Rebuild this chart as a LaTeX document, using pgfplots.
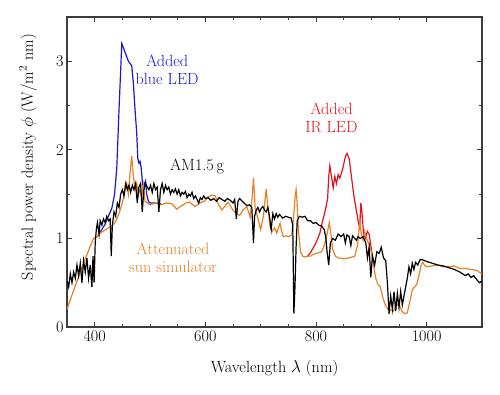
\documentclass[border=0pt]{standalone}
\usepackage{fontspec}
\usepackage{pgfplots}
\pgfplotsset{compat=1.18}
\definecolor{cblue}{RGB}{25,25,210}
\definecolor{cred}{RGB}{225,20,30}
\definecolor{corange}{RGB}{232,128,40}
\definecolor{caxis}{RGB}{60,60,60}
\newcommand{\lf}{\fontsize{16.2}{18}\selectfont}
\begin{document}
\begin{tikzpicture}
\begin{axis}[
  name=ax,
  scale only axis,
  width=415pt, height=310pt,
  xmin=350, xmax=1100, ymin=0, ymax=3.5,
  xtick={400,600,800,1000}, minor x tick num=3,
  ytick={0,1,2,3}, minor y tick num=1,
  tick align=inside,
  major tick length=5pt, minor tick length=3pt,
  axis line style={caxis, line width=1.2pt},
  every tick/.style={caxis, line width=1pt},
  /pgf/number format/assume math mode=true,
  /pgf/number format/1000 sep={},
  font=\lf,
  tick label style={font=\lf},
  xlabel={Wavelength $\lambda$ (nm)},
  ylabel={Spectral power density $\phi$ (W/m\textsuperscript{2} nm)},
  xlabel style={at={(rel axis cs:0.5,-0.135)}, anchor=center},
  ylabel style={at={(rel axis cs:-0.094,0.548)}, anchor=center},
  clip=true,
]
% blue LED
\addplot[cblue, line width=1.2pt] coordinates {
(405,1.02) (410,1.07) (418,1.15) (424,1.24) (431,1.34) (436,1.50) (440,1.80)
(444,2.45) (449,3.20) (455,3.10) (461,3.00) (467,2.95) (470,2.75) (473,2.45)
(476,2.19) (478,1.90) (480,1.85) (482,1.87) (484,1.80) (486,1.66) (488,1.55)
(490,1.62) (492,1.65) (494,1.50) (497,1.42) (500,1.40) (510,1.40) (520,1.39)
};
% IR LED
\addplot[cred, line width=1.2pt] coordinates {
(785,0.80) (790,0.84) (800,0.95) (807,1.06) (812,1.20) (817,1.32) (821,1.45)
(823,1.70) (825,1.82) (828,1.70) (831,1.57) (834,1.70) (837,1.62) (840,1.72)
(843,1.68) (848,1.78) (853,1.92) (856,1.96) (860,1.90) (864,1.70) (868,1.50)
(872,1.35) (876,1.20) (879,1.12) (881,1.40) (883,1.30) (886,1.05) (889,1.00)
(893,1.08) (896,1.05) (900,0.88) (904,0.72)
};
% attenuated sun simulator
\addplot[corange, line width=1.2pt] coordinates {
(350,0.20) (360,0.38) (370,0.55) (380,0.72) (390,0.88) (398,1.00) (405,1.02)
(410,1.06) (420,1.10) (430,1.14) (436,1.17) (440,1.22) (445,1.30) (450,1.40)
(455,1.55) (458,1.62) (461,1.50) (464,1.75) (467,1.93) (470,1.70) (473,1.55)
(476,1.62) (479,1.50) (482,1.55) (485,1.45) (488,1.60) (491,1.42) (495,1.40)
(500,1.38) (510,1.40) (520,1.38) (530,1.40) (540,1.39) (548,1.33) (555,1.36)
(565,1.40) (572,1.41) (581,1.36) (590,1.40) (598,1.42) (605,1.47) (612,1.49)
(618,1.48) (624,1.38) (630,1.32) (636,1.37) (641,1.41) (646,1.36) (650,1.32)
(656,1.28) (662,1.26) (668,1.32) (675,1.36) (681,1.24) (684,1.42) (687,1.68)
(690,1.35) (694,1.25) (700,1.10) (705,1.25) (710,1.56) (713,1.35) (717,1.13)
(721,1.08) (725,1.12) (729,1.06) (732,1.12) (735,1.17) (738,1.08) (741,1.02)
(746,1.03) (751,1.02) (756,1.04) (759,1.20) (762,1.45) (764,1.55) (766,1.40)
(768,1.10) (772,0.85) (776,0.80) (780,0.79) (785,0.80) (790,0.80) (795,0.82)
(800,0.83) (805,0.84) (810,0.85) (815,0.92) (820,1.05) (824,1.18) (827,1.05)
(830,0.88) (835,0.80) (840,0.78) (850,0.77) (860,0.78) (870,0.80) (875,0.92)
(879,1.20) (882,1.05) (885,0.98) (888,1.08) (891,1.00) (895,0.95) (900,0.85)
(904,0.70) (908,0.55) (912,0.48) (916,0.46) (920,0.35) (925,0.25) (930,0.20)
(940,0.18) (945,0.24) (950,0.26) (955,0.18) (960,0.15) (965,0.16) (970,0.30)
(974,0.42) (978,0.45) (982,0.48) (986,0.58) (990,0.70) (993,0.73) (996,0.70)
(1000,0.68) (1010,0.69) (1020,0.70) (1030,0.68) (1040,0.68) (1050,0.69)
(1060,0.66) (1070,0.66) (1080,0.65) (1090,0.64) (1100,0.60)
};
% AM1.5g
\addplot[black, line width=1.2pt] coordinates {
(350,0.52) (353,0.45) (356,0.60) (359,0.50) (362,0.62) (365,0.55) (368,0.70)
(371,0.58) (374,0.72) (377,0.50) (380,0.75) (383,0.62) (386,0.78) (389,0.55)
(392,0.70) (395,0.45) (397,0.80) (399,0.50) (401,0.95) (403,1.10) (405,1.18)
(408,1.05) (410,1.20) (413,1.15) (416,1.22) (419,1.18) (422,1.25) (425,1.20)
(428,1.22) (430,0.80) (432,1.15) (435,1.30) (438,1.25) (441,1.40) (444,1.35)
(447,1.50) (450,1.55) (453,1.48) (456,1.62) (459,1.55) (462,1.60) (465,1.52)
(468,1.60) (471,1.55) (474,1.62) (477,1.40) (480,1.58) (483,1.62) (486,1.30)
(489,1.55) (492,1.62) (495,1.58) (498,1.55) (501,1.60) (504,1.52) (507,1.62)
(510,1.55) (513,1.58) (516,1.30) (519,1.55) (522,1.62) (525,1.52) (528,1.60)
(531,1.55) (534,1.58) (537,1.50) (540,1.55) (543,1.52) (546,1.56) (549,1.50)
(552,1.55) (555,1.48) (558,1.52) (561,1.50) (564,1.53) (567,1.46) (570,1.50)
(573,1.48) (576,1.52) (579,1.45) (582,1.48) (585,1.44) (588,1.40) (591,1.46)
(594,1.44) (597,1.48) (600,1.45) (605,1.46) (610,1.43) (615,1.45) (620,1.42)
(625,1.46) (630,1.44) (635,1.42) (640,1.45) (645,1.43) (650,1.40) (653,1.44)
(656,1.22) (659,1.42) (662,1.45) (665,1.43) (670,1.40) (675,1.37) (680,1.38)
(684,1.35) (687,0.95) (689,1.25) (692,1.32) (695,1.35) (698,1.30) (701,1.34)
(704,1.36) (707,1.32) (710,1.30) (713,1.35) (716,1.25) (719,1.10) (722,1.28)
(725,1.22) (728,1.28) (731,1.24) (734,1.27) (737,1.25) (740,1.23) (745,1.25)
(750,1.24) (755,1.23) (758,1.15) (760,0.15) (762,0.45) (764,0.90) (766,1.20)
(770,1.25) (775,1.24) (780,1.25) (785,1.20) (790,1.20) (795,1.17) (800,1.18)
(805,1.15) (810,1.14) (815,1.10) (818,1.00) (820,0.85) (823,0.70) (826,0.95)
(830,1.00) (835,0.98) (840,1.05) (845,1.02) (850,1.05) (853,0.95) (856,1.04)
(860,1.02) (863,0.92) (866,1.03) (870,1.00) (873,0.98) (876,1.02) (880,1.00)
(885,1.02) (890,0.95) (893,0.78) (896,0.90) (899,0.56) (902,0.80) (906,0.70)
(910,0.85) (914,0.83) (918,0.90) (922,0.78) (926,0.75) (929,0.50) (932,0.15)
(935,0.35) (938,0.20) (941,0.40) (944,0.18) (947,0.38) (950,0.22) (953,0.40)
(956,0.25) (959,0.35) (962,0.45) (965,0.55) (968,0.68) (971,0.60) (974,0.72)
(977,0.65) (980,0.73) (984,0.70) (988,0.76) (992,0.76) (996,0.75) (1000,0.74)
(1010,0.72) (1020,0.70) (1030,0.69) (1040,0.67) (1050,0.65) (1060,0.62)
(1065,0.60) (1070,0.58) (1075,0.60) (1080,0.56) (1085,0.58) (1090,0.54)
(1095,0.50) (1100,0.52)
};
\node[cblue, align=center, font=\lf] at (axis cs:531,2.906) {Added\\blue LED};
\node[black, font=\lf] at (axis cs:585,1.816) {AM1.5\,g};
\node[cred, align=center, font=\lf] at (axis cs:828,2.358) {Added\\IR LED};
\node[corange, align=center, font=\lf] at (axis cs:541.5,0.78) {Attenuated\\sun simulator};
\end{axis}
\path ([xshift=-67pt,yshift=-67.3pt]ax.south west) rectangle ([xshift=18pt,yshift=17pt]ax.north east);
\end{tikzpicture}
\end{document}
